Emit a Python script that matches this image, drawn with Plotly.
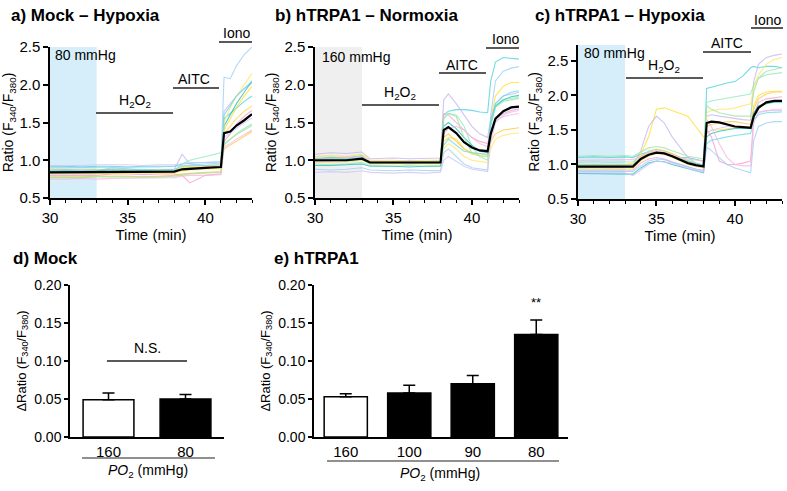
import plotly.graph_objects as go

W, H = 787, 491

# ---------------- data ----------------
# panel a: Mock - Hypoxia
time_a = [30, 31, 32, 33, 34, 35, 36, 37, 38, 38.5, 39, 40, 41, 41.2, 41.6, 42, 42.5, 43]
mean_a = [0.84, 0.84, 0.84, 0.84, 0.85, 0.85, 0.85, 0.85, 0.85, 0.88, 0.89, 0.90, 0.91, 1.36, 1.38, 1.46, 1.53, 1.61]
cells_a = [
    [0.92, 0.92, 0.91, 0.92, 0.92, 0.91, 0.92, 0.92, 0.92, 0.95, 0.96, 0.97, 0.98, 1.55, 1.62, 1.70, 1.78, 1.85],
    [0.88, 0.88, 0.87, 0.88, 0.88, 0.88, 0.87, 0.88, 0.88, 0.90, 0.92, 0.93, 0.94, 1.40, 1.55, 1.70, 1.85, 1.98],
    [0.80, 0.80, 0.81, 0.80, 0.82, 0.82, 0.81, 0.82, 0.82, 0.80, 0.70, 0.80, 0.82, 1.25, 1.35, 1.48, 1.58, 1.66],
    [0.86, 0.87, 0.86, 0.86, 0.90, 0.88, 0.87, 0.87, 0.88, 1.08, 0.95, 0.92, 0.92, 1.65, 1.75, 1.85, 1.95, 2.02],
    [0.83, 0.83, 0.84, 0.83, 0.84, 0.84, 0.85, 0.84, 0.86, 0.95, 1.00, 1.05, 1.10, 1.20, 1.28, 1.35, 1.42, 1.48],
    [0.90, 0.90, 0.90, 0.91, 0.91, 0.90, 0.91, 0.91, 0.92, 0.93, 0.94, 0.95, 0.96, 2.10, 2.08, 2.25, 2.40, 2.50],
    [0.78, 0.78, 0.78, 0.79, 0.79, 0.79, 0.78, 0.79, 0.80, 0.82, 0.83, 0.84, 0.85, 1.15, 1.20, 1.25, 1.32, 1.38],
    [0.85, 0.86, 0.85, 0.86, 0.87, 0.86, 0.86, 0.86, 0.86, 0.88, 0.90, 0.90, 0.91, 1.45, 1.60, 1.75, 1.90, 2.05],
    [0.75, 0.75, 0.76, 0.75, 0.76, 0.76, 0.76, 0.77, 0.77, 0.79, 0.80, 0.80, 0.81, 1.18, 1.22, 1.28, 1.34, 1.40],
    [0.82, 0.82, 0.82, 0.82, 0.83, 0.83, 0.83, 0.83, 0.84, 0.86, 0.87, 0.88, 0.89, 1.50, 1.70, 1.85, 2.00, 2.15],
    [0.93, 0.93, 0.93, 0.94, 0.94, 0.94, 0.93, 0.94, 0.94, 0.96, 0.97, 0.97, 0.98, 1.30, 1.36, 1.42, 1.50, 1.56],
    [0.77, 0.77, 0.77, 0.78, 0.78, 0.78, 0.78, 0.78, 0.79, 0.81, 0.82, 0.83, 0.84, 1.22, 1.28, 1.34, 1.40, 1.46],
    [0.87, 0.87, 0.87, 0.87, 0.88, 0.88, 0.88, 0.87, 0.88, 0.92, 0.92, 0.93, 0.94, 1.60, 1.72, 1.85, 1.95, 2.05],
    [0.84, 0.84, 0.83, 0.84, 0.85, 0.84, 0.84, 0.85, 0.85, 0.90, 0.90, 0.91, 0.92, 1.35, 1.45, 1.55, 1.65, 1.72],
]

# panel b: hTRPA1 - Normoxia
time_b = [30, 31, 32, 33, 33.5, 35, 36, 37, 38, 38.2, 38.5, 39, 39.5, 40, 40.5, 41, 41.2, 41.5, 42, 42.5, 43]
mean_b = [1.00, 1.00, 1.00, 1.02, 0.97, 0.97, 0.97, 0.97, 0.97, 1.40, 1.44, 1.36, 1.24, 1.17, 1.13, 1.12, 1.35, 1.55, 1.65, 1.70, 1.71]
cells_b = [
    [1.02, 1.04, 1.03, 1.06, 0.98, 0.97, 0.99, 0.98, 0.99, 1.60, 1.65, 1.67, 1.67, 1.66, 1.64, 1.63, 2.05, 2.30, 2.36, 2.35, 2.34],
    [1.05, 1.06, 1.05, 1.08, 1.00, 1.00, 0.99, 1.00, 1.00, 1.25, 1.30, 1.28, 1.15, 1.08, 1.06, 1.05, 1.55, 1.85, 1.98, 2.03, 2.03],
    [0.98, 0.99, 1.00, 1.01, 0.95, 0.96, 0.95, 0.96, 0.96, 1.62, 1.60, 1.50, 1.40, 1.30, 1.25, 1.22, 1.40, 1.55, 1.62, 1.66, 1.68],
    [1.08, 1.10, 1.09, 1.11, 1.02, 1.03, 1.02, 1.03, 1.03, 1.80, 1.88, 1.75, 1.60, 1.45, 1.35, 1.30, 1.55, 1.75, 1.85, 1.88, 1.90],
    [0.95, 0.94, 0.95, 0.97, 0.93, 0.92, 0.93, 0.92, 0.93, 1.55, 1.62, 1.60, 1.45, 1.18, 1.05, 1.00, 1.45, 1.70, 1.80, 1.82, 1.84],
    [0.88, 0.87, 0.88, 0.90, 0.87, 0.86, 0.87, 0.86, 0.86, 1.10, 1.15, 1.05, 0.95, 0.90, 0.88, 0.87, 1.60, 2.05, 2.18, 2.22, 2.24],
    [1.00, 1.01, 1.00, 1.03, 0.96, 0.96, 0.97, 0.96, 0.96, 1.30, 1.35, 1.25, 1.15, 1.10, 1.08, 1.07, 1.25, 1.35, 1.40, 1.42, 1.43],
    [0.93, 0.93, 0.94, 0.95, 0.92, 0.92, 0.91, 0.92, 0.92, 1.45, 1.50, 1.42, 1.30, 1.20, 1.12, 1.10, 1.50, 1.72, 1.80, 1.84, 1.86],
    [1.03, 1.02, 1.04, 1.05, 0.99, 0.98, 0.99, 0.98, 0.99, 1.35, 1.42, 1.45, 1.40, 1.30, 1.22, 1.18, 1.40, 1.52, 1.58, 1.60, 1.62],
    [0.97, 0.97, 0.98, 1.00, 0.95, 0.95, 0.94, 0.95, 0.95, 1.15, 1.22, 1.15, 1.05, 1.00, 0.98, 0.97, 1.15, 1.28, 1.33, 1.35, 1.36],
    [0.84, 0.85, 0.84, 0.86, 0.84, 0.83, 0.84, 0.83, 0.84, 1.00, 1.05, 0.98, 0.92, 0.88, 0.86, 0.85, 1.25, 1.50, 1.60, 1.64, 1.66],
    [0.99, 1.00, 0.99, 1.01, 0.96, 0.97, 0.96, 0.97, 0.97, 1.55, 1.62, 1.58, 1.30, 1.10, 1.06, 1.05, 1.50, 1.70, 1.78, 1.80, 1.82],
    [1.02, 1.03, 1.02, 1.04, 0.97, 0.98, 0.97, 0.98, 0.98, 1.20, 1.28, 1.20, 1.12, 1.10, 1.09, 1.08, 1.48, 1.75, 1.85, 1.90, 1.92],
]

# panel c: hTRPA1 - Hypoxia
time_c = [30, 31, 32, 33, 33.5, 34, 34.5, 35, 35.5, 36, 36.5, 37, 37.5, 38, 38.2, 38.5, 39, 39.5, 40, 40.5, 41, 41.2, 41.5, 42, 42.5, 43]
mean_c = [0.97, 0.97, 0.97, 0.97, 0.97, 1.08, 1.14, 1.17, 1.16, 1.12, 1.07, 1.02, 0.99, 0.97, 1.60, 1.62, 1.61, 1.58, 1.55, 1.54, 1.53, 1.70, 1.82, 1.90, 1.92, 1.92]
cells_c = [
    [1.10, 1.11, 1.10, 1.11, 1.10, 1.15, 1.18, 1.18, 1.15, 1.12, 1.10, 1.10, 1.08, 1.05, 2.10, 2.12, 2.15, 2.18, 2.20, 2.28, 2.40, 2.42, 2.40, 2.42, 2.42, 2.40],
    [1.00, 1.00, 1.01, 1.00, 1.02, 1.15, 1.40, 1.80, 1.82, 1.78, 1.75, 1.70, 1.55, 1.40, 1.45, 1.50, 1.50, 1.52, 1.53, 1.55, 1.55, 1.85, 2.00, 2.05, 2.06, 2.06],
    [0.92, 0.92, 0.93, 0.92, 0.92, 1.02, 1.08, 1.10, 1.08, 1.04, 1.00, 0.96, 0.93, 0.92, 1.50, 1.40, 1.05, 1.00, 1.00, 1.02, 1.05, 1.70, 1.90, 1.95, 1.97, 1.98],
    [0.95, 0.96, 0.95, 0.96, 0.97, 1.20, 1.55, 1.70, 1.60, 1.40, 1.25, 1.10, 1.02, 0.98, 1.70, 1.72, 1.70, 1.68, 1.66, 1.65, 1.64, 2.20, 2.45, 2.55, 2.58, 2.60],
    [1.03, 1.04, 1.03, 1.04, 1.04, 1.12, 1.20, 1.22, 1.20, 1.15, 1.10, 1.06, 1.02, 1.00, 1.90, 1.92, 1.94, 1.96, 1.98, 2.00, 2.02, 2.15, 2.25, 2.30, 2.32, 2.33],
    [0.90, 0.90, 0.91, 0.90, 0.90, 0.98, 1.05, 1.08, 1.07, 1.03, 1.00, 0.96, 0.93, 0.90, 1.25, 1.20, 1.10, 1.00, 0.95, 0.92, 0.88, 1.35, 1.55, 1.60, 1.62, 1.62],
    [0.98, 0.98, 0.99, 0.98, 0.99, 1.10, 1.18, 1.22, 1.20, 1.16, 1.10, 1.05, 1.01, 0.99, 1.55, 1.58, 1.60, 1.62, 1.62, 1.60, 1.58, 1.80, 1.95, 2.02, 2.05, 2.05],
    [0.87, 0.87, 0.86, 0.87, 0.86, 0.95, 1.02, 1.05, 1.04, 1.00, 0.97, 0.93, 0.90, 0.88, 1.40, 1.45, 1.48, 1.50, 1.52, 1.52, 1.52, 1.75, 1.85, 1.88, 1.90, 1.90],
    [1.06, 1.06, 1.07, 1.06, 1.07, 1.12, 1.18, 1.20, 1.18, 1.14, 1.10, 1.08, 1.06, 1.05, 1.65, 1.55, 1.30, 1.10, 1.00, 0.98, 0.98, 1.60, 1.75, 1.78, 1.80, 1.80],
    [0.93, 0.93, 0.94, 0.93, 0.94, 1.05, 1.12, 1.16, 1.15, 1.10, 1.05, 1.00, 0.97, 0.95, 1.75, 1.78, 1.80, 1.80, 1.82, 1.85, 1.88, 2.10, 2.30, 2.45, 2.52, 2.55],
    [0.88, 0.88, 0.88, 0.88, 0.84, 0.92, 1.00, 1.05, 1.04, 1.02, 0.98, 0.94, 0.91, 0.89, 1.45, 1.50, 1.52, 1.55, 1.55, 1.55, 1.53, 1.70, 1.76, 1.78, 1.78, 1.78],
    [1.12, 1.13, 1.12, 1.13, 1.12, 1.18, 1.24, 1.26, 1.24, 1.20, 1.16, 1.12, 1.10, 1.08, 1.85, 1.80, 1.75, 1.72, 1.70, 1.70, 1.70, 2.05, 2.25, 2.35, 2.38, 2.40],
    [0.99, 1.00, 0.99, 1.00, 1.00, 1.08, 1.14, 1.18, 1.16, 1.12, 1.08, 1.04, 1.01, 0.99, 1.30, 1.35, 1.38, 1.40, 1.42, 1.44, 1.45, 1.65, 1.72, 1.75, 1.76, 1.76],
]

# panel d: Mock
mock_po2 = ["160", "80"]
mock_mean = [0.049, 0.050]
mock_sem = [0.009, 0.006]

# panel e: hTRPA1
trpa_po2 = ["160", "100", "90", "80"]
trpa_mean = [0.053, 0.058, 0.070, 0.135]
trpa_sem = [0.004, 0.010, 0.011, 0.019]

# ---------------- styling ----------------
FONT = "Liberation Sans, Arial, Helvetica, sans-serif"
palette = ['#4fd3e0', '#ffe033', '#f7a1d3', '#c9b8f0', '#8eecc0', '#9fd0f7', '#ffc94d',
           '#2cbfbf', '#f9b8e0', '#ffe866', '#d2c8f5', '#a0e8a0', '#6cdcec', '#ffd84d']


def px(x):
    return x / W


def py(y):
    return 1 - y / H


fig = go.Figure()

top_panels = [
    ("x", "y", time_a, mean_a, cells_a),
    ("x2", "y2", time_b, mean_b, cells_b),
    ("x3", "y3", time_c, mean_c, cells_c),
]
for xa, ya, t, m, cells in top_panels:
    for i, c in enumerate(cells):
        fig.add_trace(go.Scatter(x=t, y=c, xaxis=xa, yaxis=ya, mode="lines",
                                 line=dict(color=palette[i % len(palette)], width=1.1),
                                 opacity=0.8, showlegend=False, hoverinfo="skip"))
    fig.add_trace(go.Scatter(x=t, y=m, xaxis=xa, yaxis=ya, mode="lines",
                             line=dict(color="black", width=2.2), showlegend=False))

# bar charts
fig.add_trace(go.Bar(x=mock_po2, y=mock_mean, xaxis="x4", yaxis="y4", width=0.66,
                     marker=dict(color=["white", "black"], line=dict(color="black", width=1.5)),
                     error_y=dict(type="data", symmetric=False, array=mock_sem,
                                  arrayminus=[0] * len(mock_sem), color="black",
                                  thickness=1.5, width=6),
                     showlegend=False))
fig.add_trace(go.Bar(x=trpa_po2, y=trpa_mean, xaxis="x5", yaxis="y5", width=0.68,
                     marker=dict(color=["white", "black", "black", "black"],
                                 line=dict(color="black", width=1.5)),
                     error_y=dict(type="data", symmetric=False, array=trpa_sem,
                                  arrayminus=[0] * len(trpa_sem), color="black",
                                  thickness=1.5, width=6),
                     showlegend=False))

axis_common = dict(showline=True, linecolor="black", linewidth=1.5, showgrid=False,
                   zeroline=False, ticks="outside", tickcolor="black", tickwidth=1.5,
                   ticklen=5, automargin=False,
                   tickfont=dict(family=FONT, size=15, color="black"))


def time_axis(dom, anchor):
    return dict(axis_common, domain=dom, anchor=anchor, range=[30, 43],
                tickvals=[30, 35, 40],
                minor=dict(dtick=1, tick0=30, ticks="outside", ticklen=3,
                           tickwidth=1.2, tickcolor="black"),
                title=dict(text="Time (min)", font=dict(family=FONT, size=15, color="black"),
                           standoff=2))


def ratio_axis(dom, anchor, rng):
    return dict(axis_common, domain=dom, anchor=anchor, range=rng, dtick=0.5,
                tick0=0.5, tickformat=".1f",
                title=dict(text="Ratio (F<sub>340</sub>/F<sub>380</sub>)",
                           font=dict(family=FONT, size=14, color="black"), standoff=4))


def dratio_axis(dom, anchor):
    return dict(axis_common, domain=dom, anchor=anchor, range=[0, 0.2], dtick=0.05,
                tickformat=".2f", ticklen=4, tickfont=dict(family=FONT, size=14, color="black"),
                title=dict(text="\u0394Ratio (F<sub>340</sub>/F<sub>380</sub>)",
                           font=dict(family=FONT, size=13, color="black"), standoff=5))


def cat_axis(dom, anchor, n):
    return dict(axis_common, domain=dom, anchor=anchor, type="category",
                range=[-0.5, n - 0.5], ticks="", ticklen=0,
                tickfont=dict(family=FONT, size=15, color="black"))


ydom_ab = [py(198), py(47)]
ydom_c = [py(199), py(45)]
fig.update_layout(
    xaxis=time_axis([px(50), px(252)], "y"),
    yaxis=ratio_axis(ydom_ab, "x", [0.5, 2.5]),
    xaxis2=time_axis([px(315), px(519)], "y2"),
    yaxis2=ratio_axis(ydom_ab, "x2", [0.5, 2.5]),
    xaxis3=time_axis([px(578), px(782)], "y3"),
    yaxis3=ratio_axis(ydom_c, "x3", [0.5, 2.73]),
    xaxis4=cat_axis([px(70), px(224)], "y4", 2),
    yaxis4=dratio_axis([py(437), py(285)], "x4"),
    xaxis5=cat_axis([px(314), px(568)], "y5", 4),
    yaxis5=dratio_axis([py(437), py(285)], "x5"),
)

shapes = []
annotations = []

# shaded baseline periods
for xr, yr, col in [("x", "y", "#d5eefa"), ("x2", "y2", "#efefef"), ("x3", "y3", "#d5eefa")]:
    shapes.append(dict(type="rect", xref=xr, yref=yr + " domain", x0=30, x1=33, y0=0, y1=1,
                       fillcolor=col, line=dict(width=0), layer="below"))


def hline(x0, x1, y, w=1.5):
    shapes.append(dict(type="line", xref="paper", yref="paper", x0=px(x0), x1=px(x1),
                       y0=py(y), y1=py(y), line=dict(color="#222", width=w)))


def label(text, x, y, size=14, xanchor="center", bold=False):
    annotations.append(dict(text=("<b>%s</b>" % text) if bold else text, x=px(x), y=py(y),
                            xref="paper", yref="paper", xanchor=xanchor, yanchor="middle",
                            showarrow=False, font=dict(family=FONT, size=size, color="black")))


H2O2 = "H<sub>2</sub>O<sub>2</sub>"
# panel a
label("80 mmHg", 53, 55, xanchor="left")
hline(96, 173, 113); label(H2O2, 135, 101)
hline(173, 219, 88); label("AITC", 194, 79)
hline(219, 252, 42); label("Iono", 236, 33)
# panel b
label("160 mmHg", 320, 57, xanchor="left")
hline(362, 439, 105); label(H2O2, 400, 93)
hline(439, 486, 73); label("AITC", 462, 65)
hline(486, 519, 48); label("Iono", 505, 39)
# panel c
label("80 mmHg", 582, 53, xanchor="left")
hline(626, 703, 78); label(H2O2, 664, 66)
hline(703, 751, 52); label("AITC", 727, 43)
hline(751, 783, 28); label("Iono", 767, 20)

# titles
label("a) Mock \u2013 Hypoxia", 9, 15, size=17, xanchor="left", bold=True)
label("b) hTRPA1 \u2013 Normoxia", 273, 15, size=17, xanchor="left", bold=True)
label("c) hTRPA1 \u2013 Hypoxia", 533, 15, size=17, xanchor="left", bold=True)
label("d) Mock", 11, 258, size=17, xanchor="left", bold=True)
label("e) hTRPA1", 272, 258, size=17, xanchor="left", bold=True)

# bottom panels annotations
PO2 = "<i>PO</i><sub>2</sub> (mmHg)"
hline(82, 215, 458, 1.2); label(PO2, 148, 471)
hline(327, 559, 461, 1.2); label(PO2, 440, 474)
shapes.append(dict(type="line", xref="x4", yref="y4", x0=-0.02, x1=1.02, y0=0.10, y1=0.10,
                   line=dict(color="#222", width=1.5)))
annotations.append(dict(text="N.S.", x=0.5, y=0.104, xref="x4", yref="y4", yanchor="bottom",
                        showarrow=False, font=dict(family=FONT, size=14, color="black")))
annotations.append(dict(text="**", x=3, y=0.164, xref="x5", yref="y5", yanchor="bottom",
                        showarrow=False, font=dict(family=FONT, size=13, color="black")))

fig.update_layout(width=W, height=H, autosize=False, margin=dict(l=0, r=0, t=0, b=0),
                  paper_bgcolor="white", plot_bgcolor="white", shapes=shapes,
                  annotations=annotations, bargap=0.3,
                  font=dict(family=FONT, size=14, color="black"))

fig.write_html("out.html", config={"displayModeBar": False},
               post_script="document.body.style.margin='0';document.body.style.overflow='hidden';")
